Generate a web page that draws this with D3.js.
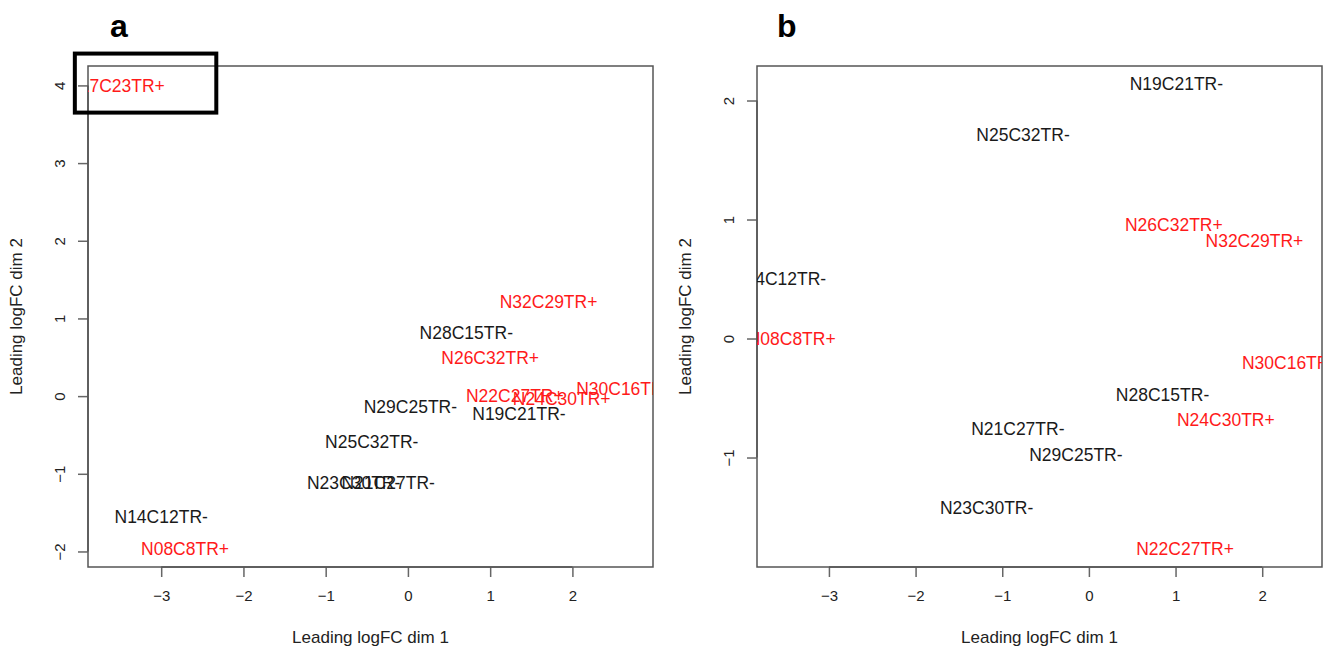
<!DOCTYPE html>
<html><head><meta charset="utf-8">
<script src="https://cdn.jsdelivr.net/npm/d3@7"></script>
<style>body{margin:0;background:#fff}svg{display:block}text{font-family:"Liberation Sans",Arial,sans-serif}</style>
</head><body><svg id="c" width="1331" height="648"></svg>
<script>
// Panel a data
const namesA = ["N17C23TR+","N32C29TR+","N28C15TR-","N26C32TR+","N22C27TR+","N24C30TR+","N30C16TR+","N29C25TR-","N19C21TR-","N25C32TR-","N23C30TR-","N21C27TR-","N14C12TR-","N08C8TR+"];
const dim1A = [-3.55, 1.71, 0.71, 1.00, 1.30, 1.87, 2.64, 0.03, 1.35, -0.44, -0.66, -0.24, -3.00, -2.71];
const dim2A = [4.00, 1.21, 0.82, 0.50, 0.00, -0.03, 0.09, -0.14, -0.23, -0.59, -1.12, -1.12, -1.55, -1.97];
const xTicksA = [-3,-2,-1,0,1,2];
const yTicksA = [-2,-1,0,1,2,3,4];
const xDomainA = [-3.89, 2.98];
const yDomainA = [-2.20, 4.25];
const highlightA = [-4.05, -2.33, 3.65, 4.41]; // x0,x1,y0,y1 in data units

// Panel b data
const namesB = ["N19C21TR-","N25C32TR-","N26C32TR+","N32C29TR+","N14C12TR-","N08C8TR+","N30C16TR+","N28C15TR-","N24C30TR+","N21C27TR-","N29C25TR-","N23C30TR-","N22C27TR+"];
const dim1B = [1.01, -0.76, 0.98, 1.91, -3.57, -3.43, 2.33, 0.85, 1.58, -0.82, -0.15, -1.18, 1.11];
const dim2B = [2.14, 1.71, 0.96, 0.82, 0.50, 0.00, -0.20, -0.47, -0.68, -0.76, -0.98, -1.42, -1.77];
const xTicksB = [-3,-2,-1,0,1,2];
const yTicksB = [-1,0,1,2];
const xDomainB = [-3.83, 2.69];
const yDomainB = [-1.92, 2.29];

const xTitle = "Leading logFC dim 1";
const yTitle = "Leading logFC dim 2";

const svg = d3.select("#c");

function panel(id, letter, names, xs, ys, xDom, yDom, xT, yT, box, hl) {
  const [L, T, R, B, yTitleX, letterX] = box;
  const x = d3.scaleLinear().domain(xDom).range([L, R]);
  const y = d3.scaleLinear().domain(yDom).range([B, T]);
  const g = svg.append("g");
  g.append("clipPath").attr("id", "clip" + id).append("rect")
    .attr("x", L).attr("y", T).attr("width", R - L).attr("height", B - T);
  // box
  g.append("rect").attr("x", L).attr("y", T).attr("width", R - L).attr("height", B - T)
    .attr("fill", "none").attr("stroke", "#555").attr("stroke-width", 1.5);
  // axes
  const xa = g.append("g").attr("transform", `translate(0,${B})`)
    .call(d3.axisBottom(x).tickValues(xT).tickSize(10).tickPadding(13).tickFormat(d3.format("d")));
  xa.select(".domain").remove();
  xa.selectAll(".tick line").attr("stroke", "#666").attr("stroke-width", 1.5);
  xa.selectAll("text").attr("font-size", 15).attr("fill", "#222").attr("font-family", "Liberation Sans");
  g.append("line").attr("x1", x(xT[0])).attr("x2", x(xT[xT.length-1])).attr("y1", B).attr("y2", B)
    .attr("stroke", "#555").attr("stroke-width", 1.5);
  const ya = g.append("g").attr("transform", `translate(${L},0)`)
    .call(d3.axisLeft(y).tickValues(yT).tickSize(10).tickFormat(d3.format("d")));
  ya.select(".domain").remove();
  ya.selectAll(".tick line").attr("stroke", "#666").attr("stroke-width", 1.5);
  ya.selectAll(".tick text").attr("x", -28).attr("dy", "0.35em").attr("text-anchor", "middle")
    .attr("transform", "rotate(-90,-28,0)")
    .attr("font-size", 15).attr("fill", "#222").attr("font-family", "Liberation Sans");
  g.append("line").attr("y1", y(yT[0])).attr("y2", y(yT[yT.length-1])).attr("x1", L).attr("x2", L)
    .attr("stroke", "#555").attr("stroke-width", 1.5);
  // titles
  g.append("text").attr("x", (L + R) / 2).attr("y", 643).attr("text-anchor", "middle")
    .attr("font-size", 17).attr("fill", "#222").text(xTitle);
  g.append("text").attr("transform", `translate(${yTitleX},${(T + B) / 2}) rotate(-90)`)
    .attr("text-anchor", "middle").attr("font-size", 17).attr("fill", "#222").text(yTitle);
  // panel letter
  g.append("text").attr("x", letterX).attr("y", 37).attr("font-size", 32).attr("font-weight", "bold")
    .attr("fill", "#000").text(letter);
  // labels
  g.append("g").attr("clip-path", `url(#clip${id})`).selectAll("text")
    .data(names.map((n, i) => ({ n, x: xs[i], y: ys[i] })))
    .join("text")
    .attr("x", d => x(d.x)).attr("y", d => y(d.y)).attr("dy", "0.36em")
    .attr("text-anchor", "middle").attr("font-size", 17.5)
    .attr("fill", d => d.n.endsWith("+") ? "#ff1a1a" : "#1a1a1a")
    .text(d => d.n);
  if (hl) {
    g.append("rect").attr("x", x(hl[0])).attr("y", y(hl[3]))
      .attr("width", x(hl[1]) - x(hl[0])).attr("height", y(hl[2]) - y(hl[3]))
      .attr("fill", "none").attr("stroke", "#000").attr("stroke-width", 4);
  }
}

panel("a", "a", namesA, dim1A, dim2A, xDomainA, yDomainA, xTicksA, yTicksA, [88, 66, 653, 567, 22, 110], highlightA);
panel("b", "b", namesB, dim1B, dim2B, xDomainB, yDomainB, xTicksB, yTicksB, [757, 66, 1322, 567, 691, 777], null);
</script></body></html>
